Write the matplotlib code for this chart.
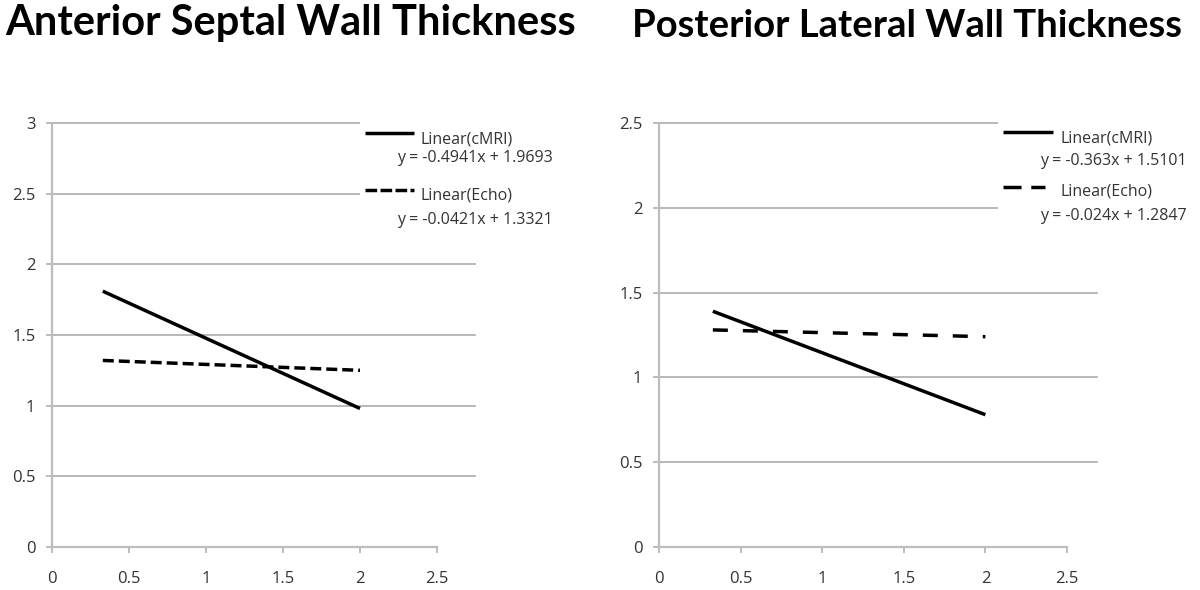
import matplotlib
matplotlib.use("Agg")
import matplotlib.pyplot as plt
from matplotlib.lines import Line2D
from matplotlib.patches import Rectangle

# ---- data ----
titles = ["Anterior Septal Wall Thickness", "Posterior Lateral Wall Thickness"]
x_fit = [0.33, 2.0]
cmri_septal = [1.81, 0.98]
echo_septal = [1.32, 1.25]
cmri_lateral = [1.39, 0.78]
echo_lateral = [1.28, 1.24]
series_labels = ["Linear(cMRI)", "Linear(Echo)"]
eq_septal = ["y = -0.4941x + 1.9693", "y = -0.0421x + 1.3321"]
eq_lateral = ["y = -0.363x + 1.5101", "y = -0.024x + 1.2847"]
x_ticks = [0, 0.5, 1, 1.5, 2, 2.5]
y_ticks_septal = [0, 0.5, 1, 1.5, 2, 2.5, 3]
y_ticks_lateral = [0, 0.5, 1, 1.5, 2, 2.5]

plt.rcParams['font.family'] = ['Open Sans', 'DejaVu Sans']
plt.rcParams['lines.scale_dashes'] = False

W, H = 1200, 590
LW = 2.5
TXT = '#333333'
fig = plt.figure(figsize=(12, 5.9), dpi=100)

def px(x, y):
    return (x / W, 1 - y / H)

def tick_fmt(v):
    return ("%g" % v)

def setup(ax, yticks, grid_ext):
    ax.set_xlim(0, 2.5)
    ax.set_ylim(0, yticks[-1])
    ax.set_xticks(x_ticks)
    ax.set_xticklabels([tick_fmt(v) for v in x_ticks])
    ax.set_yticks(yticks)
    ax.set_yticklabels([tick_fmt(v) for v in yticks])
    for s in ['top', 'right']:
        ax.spines[s].set_visible(False)
    for s in ['left', 'bottom']:
        ax.spines[s].set_color('#bdbdbd')
        ax.spines[s].set_linewidth(1.6)
    ax.tick_params(axis='both', colors='#bdbdbd', width=1.4, length=4,
                   labelcolor=TXT, labelsize=12)
    ax.tick_params(axis='x', pad=13)
    ax.tick_params(axis='y', pad=8)
    for v in yticks[1:]:
        ax.plot([0, grid_ext], [v, v], transform=ax.get_yaxis_transform(),
                color='#ababab', lw=1.2, clip_on=False, zorder=0)
    ax.patch.set_alpha(0)

def legend(x0, x1, x1d, text_x, eq_x, ys, labels, eqs, echo_dash):
    # ys: (solid line y, label y, eq y, dashed line y, label y, eq y) in pixels
    fig.add_artist(Line2D([px(x0, 0)[0], px(x1, 0)[0]], [px(0, ys[0])[1]] * 2,
                          color='black', lw=LW, solid_capstyle='butt',
                          transform=fig.transFigure))
    fig.text(*px(text_x, ys[1]), labels[0], fontsize=11.5, color=TXT,
             va='center', ha='left')
    fig.text(*px(eq_x, ys[2]), eqs[0], fontsize=11.5, color=TXT,
             va='center', ha='left')
    fig.add_artist(Line2D([px(x0, 0)[0], px(x1d, 0)[0]], [px(0, ys[3])[1]] * 2,
                          color='black', lw=LW, dashes=echo_dash,
                          transform=fig.transFigure))
    fig.text(*px(text_x, ys[4]), labels[1], fontsize=11.5, color=TXT,
             va='center', ha='left')
    fig.text(*px(eq_x, ys[5]), eqs[1], fontsize=11.5, color=TXT,
             va='center', ha='left')

# Left panel
ax1 = fig.add_axes([52 / W, 1 - 547 / H, 385 / W, 424 / H])
setup(ax1, y_ticks_septal, 1.099)
ax1.plot(x_fit, cmri_septal, color='black', lw=LW, solid_capstyle='butt')
ax1.plot(x_fit, echo_septal, color='black', lw=LW, dashes=(7.9, 3.6))
fig.text(291 / W, 1 - 35 / H, titles[0], fontsize=30, fontweight='bold',
         family=['Lato', 'DejaVu Sans'],
         ha='center', va='baseline', color='black')

# Right panel
ax2 = fig.add_axes([659 / W, 1 - 547 / H, 408 / W, 424 / H])
setup(ax2, y_ticks_lateral, 1.074)
ax2.plot(x_fit, cmri_lateral, color='black', lw=LW, solid_capstyle='butt')
ax2.plot(x_fit, echo_lateral, color='black', lw=LW, dashes=(10.8, 10.8))
fig.text(907 / W, 1 - 37 / H, titles[1], fontsize=27.5, fontweight='bold',
         family=['Lato', 'DejaVu Sans'],
         ha='center', va='baseline', color='black')

# white boxes behind legends
fig.add_artist(Rectangle(px(360, 240), 240 / W, 120 / H, transform=fig.transFigure,
                         facecolor='white', edgecolor='none', zorder=1))
fig.add_artist(Rectangle(px(998, 235), 202 / W, 120 / H, transform=fig.transFigure,
                         facecolor='white', edgecolor='none', zorder=1))

legend(365, 414, 414, 420, 397, (133, 140, 158, 190, 195, 220),
       series_labels, eq_septal, (8.4, 2.4))
legend(1003, 1053, 1045, 1060, 1040, (132, 139, 161, 187, 191, 216),
       series_labels, eq_lateral, (13, 7))

fig.savefig("out.png", dpi=100, facecolor='white')
